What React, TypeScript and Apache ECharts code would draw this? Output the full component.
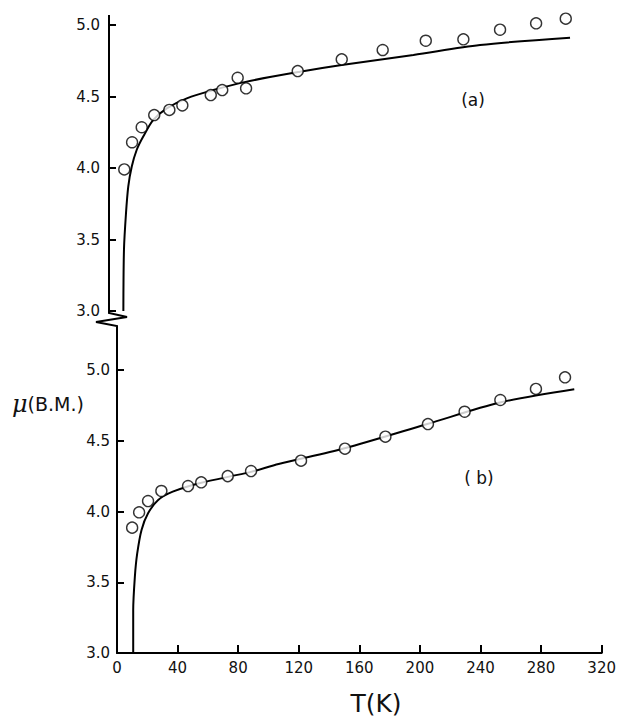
import React, { useEffect, useRef } from "react";
import * as echarts from "echarts";

// Panel (a) measured points
const aT = [10.0, 15.1, 21.4, 29.6, 39.5, 48.0, 66.6, 74.1, 84.2, 89.7, 123.5, 152.3, 179.1, 207.3, 231.9, 255.9, 279.5, 298.9];
const aMu = [3.99, 4.18, 4.285, 4.37, 4.406, 4.438, 4.51, 4.545, 4.631, 4.557, 4.678, 4.76, 4.825, 4.89, 4.9, 4.967, 5.012, 5.044];
// Panel (a) fitted curve
const aFitT = [9.4, 9.8, 11.1, 12.6, 14.9, 18.1, 22.4, 29.0, 37.8, 50.9, 68.3, 90.1, 125, 152.3, 199.2, 242.8, 301.7];
const aFitMu = [3.0, 3.43, 3.68, 3.87, 4.01, 4.126, 4.22, 4.336, 4.417, 4.487, 4.545, 4.604, 4.673, 4.72, 4.79, 4.86, 4.911];

// Panel (b) measured points
const bT = [10.0, 14.6, 20.5, 29.3, 46.9, 55.6, 73.1, 88.5, 121.5, 150.5, 177.2, 205.3, 229.5, 253.1, 276.6, 295.8];
const bMu = [3.886, 3.994, 4.074, 4.145, 4.18, 4.206, 4.25, 4.286, 4.359, 4.444, 4.529, 4.618, 4.705, 4.788, 4.866, 4.948];
// Panel (b) fitted curve
const bFitT = [10.7, 10.7, 11.8, 13.3, 16.2, 20.5, 27.0, 36.8, 54.3, 88.5, 106.7, 150.3, 204.8, 252.8, 301.9];
const bFitMu = [3.0, 3.3, 3.54, 3.7, 3.87, 3.987, 4.08, 4.14, 4.2, 4.28, 4.336, 4.447, 4.618, 4.77, 4.864];

const xTicks = [0, 40, 80, 120, 160, 200, 240, 280, 320];
const yTicks = [3.0, 3.5, 4.0, 4.5, 5.0];

const zip = (xs: number[], ys: number[]) => xs.map((x, i) => [x, ys[i]]);

const FONT = "DejaVu Sans";

export default function App() {
  const ref = useRef<HTMLDivElement>(null);
  useEffect(() => {
    if (!ref.current) return;
    const chart = echarts.init(ref.current, undefined, { renderer: "svg" });
    const yAxisBase = (gridIndex: number, margin: number) => ({
      type: "value",
      gridIndex,
      min: yTicks[0],
      max: yTicks[yTicks.length - 1],
      interval: 0.5,
      axisLine: { show: true, lineStyle: { color: "#000", width: 2 } },
      axisTick: { show: true, inside: true, length: 7, lineStyle: { color: "#000", width: 2 } },
      splitLine: { show: false },
      axisLabel: {
        color: "#111",
        fontFamily: FONT,
        fontSize: 15,
        margin,
        formatter: (v: number) => v.toFixed(1),
      },
    });
    const circle = {
      type: "scatter",
      symbol: "circle",
      symbolSize: 11,
      clip: false,
      itemStyle: { color: "#fff", borderColor: "#000", borderWidth: 1.4 },
      z: 5,
    };
    const line = {
      type: "line",
      showSymbol: false,
      smooth: 0.3,
      clip: false,
      lineStyle: { color: "#000", width: 2 },
      z: 3,
    };
    chart.setOption({
      animation: false,
      backgroundColor: "#fff",
      grid: [
        { left: 109, top: 25, width: 489, height: 286 },
        { left: 117, top: 370, width: 489, height: 283 },
      ],
      xAxis: [
        { type: "value", gridIndex: 0, min: xTicks[0], max: xTicks[xTicks.length - 1], interval: 40, show: false },
        {
          type: "value",
          gridIndex: 1,
          min: xTicks[0],
          max: xTicks[xTicks.length - 1],
          interval: 40,
          axisLine: { show: true, lineStyle: { color: "#000", width: 2 } },
          axisTick: { show: true, inside: true, length: 8, lineStyle: { color: "#000", width: 2 } },
          splitLine: { show: false },
          axisLabel: { color: "#111", fontFamily: FONT, fontSize: 15, margin: 7 },
        },
      ],
      yAxis: [yAxisBase(0, 9), yAxisBase(1, 7)],
      series: [
        { ...line, name: "fit a", xAxisIndex: 0, yAxisIndex: 0, data: zip(aFitT, aFitMu) },
        { ...circle, name: "a", xAxisIndex: 0, yAxisIndex: 0, data: zip(aT, aMu) },
        { ...line, name: "fit b", xAxisIndex: 1, yAxisIndex: 1, data: zip(bFitT, bFitMu) },
        { ...circle, name: "b", xAxisIndex: 1, yAxisIndex: 1, data: zip(bT, bMu) },
      ],
      graphic: [
        {
          type: "polyline",
          shape: { points: [[109, 15], [109, 25]] },
          style: { stroke: "#000", lineWidth: 2, fill: null },
        },
        {
          type: "polyline",
          shape: { points: [[109, 311], [109, 313], [127, 317], [96, 322], [117, 326], [117, 370]] },
          style: { stroke: "#000", lineWidth: 2, fill: null },
        },
        {
          type: "text",
          x: 473,
          y: 100,
          style: { text: "(a)", fontFamily: FONT, fontSize: 17, fill: "#111", align: "center", verticalAlign: "middle" },
        },
        {
          type: "text",
          x: 479,
          y: 478,
          style: { text: "( b)", fontFamily: FONT, fontSize: 17, fill: "#111", align: "center", verticalAlign: "middle" },
        },
        {
          type: "text",
          x: 12,
          y: 404,
          style: {
            text: "{m|μ}{r|(B.M.)}",
            verticalAlign: "middle",
            rich: {
              m: { fontFamily: "DejaVu Serif", fontStyle: "italic", fontSize: 24, fill: "#111" },
              r: { fontFamily: FONT, fontSize: 19, fill: "#111" },
            },
          },
        },
        {
          type: "text",
          x: 376,
          y: 703,
          style: { text: "T(K)", fontFamily: FONT, fontSize: 25, fill: "#111", align: "center", verticalAlign: "middle" },
        },
      ],
    });
    return () => chart.dispose();
  }, []);
  return <div ref={ref} style={{ position: "fixed", left: 0, top: 0, width: 619, height: 716 }} />;
}
